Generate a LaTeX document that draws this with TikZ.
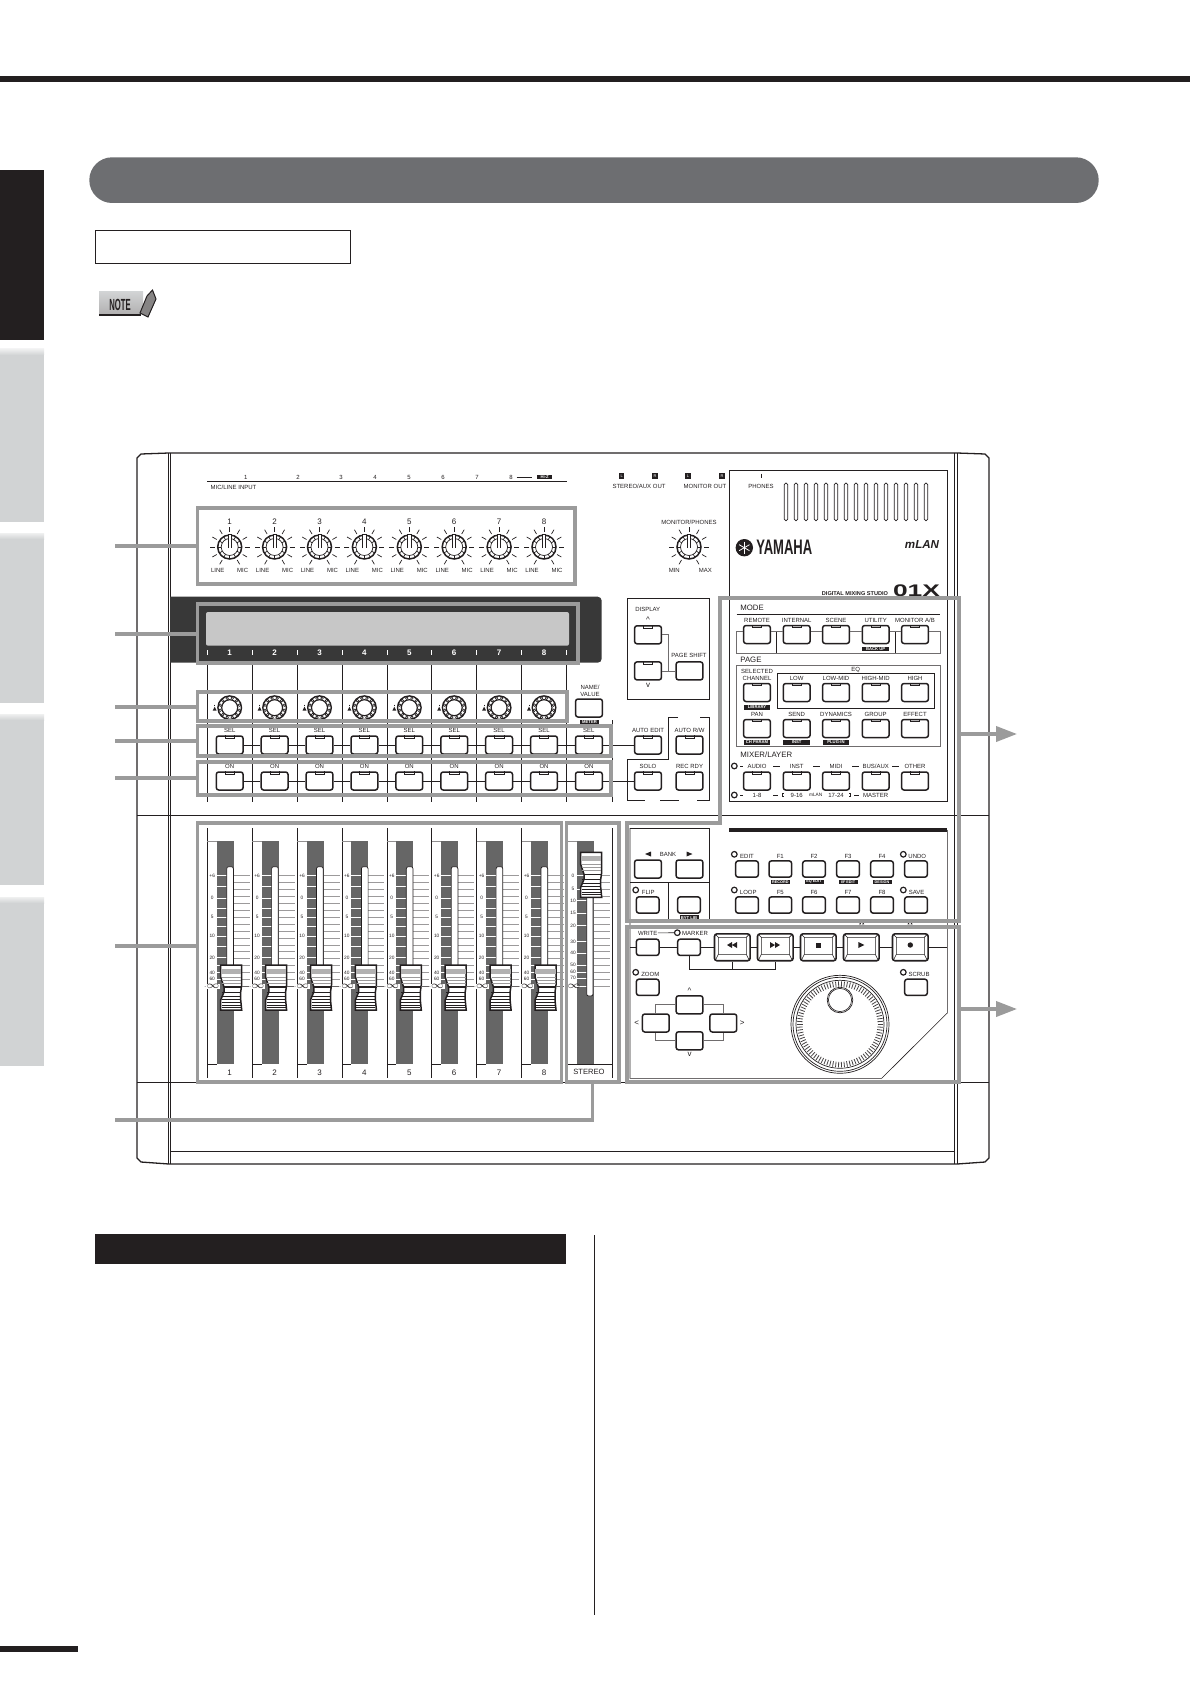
\documentclass[tikz,border=0pt]{standalone}
\usepackage{fontspec}
\setmainfont{Liberation Sans}
\usetikzlibrary{arrows.meta}
\definecolor{ink}{HTML}{231F20}
\definecolor{pillgray}{HTML}{6D6E71}
\definecolor{tabgray}{HTML}{D1D3D4}
\definecolor{framegray}{HTML}{9B9B9B}
\definecolor{bandgray}{HTML}{666666}
\tikzset{
  lbl/.style={inner sep=0, text=ink, font=\fontsize{3}{3.5}\selectfont},
  lblbig/.style={inner sep=0, text=ink, font=\fontsize{4}{4.5}\selectfont},
  lblhead/.style={inner sep=0, text=ink, anchor=west, font=\fontsize{3.9}{4.5}\selectfont},
  lblfine/.style={inner sep=0, text=ink, font=\fontsize{2.4}{3}\selectfont},
  blacktag/.style={fill=ink, text=white, inner sep=0, minimum width=13.3pt, minimum height=2.4pt, font=\bfseries\fontsize{2.1}{2.4}\selectfont},
  tagsmall/.style={blacktag, minimum width=9.5pt},
  keycap/.style={draw=ink, fill=white, line width=.75pt, rounded corners=1.2pt, inner sep=0, minimum width=13.4pt, minimum height=9pt},
  keysmall/.style={keycap, minimum width=11.3pt, minimum height=8.1pt},
  keybig/.style={keycap, line width=.8pt, minimum width=17.8pt, minimum height=13.4pt},
  led/.style={circle, draw=ink, fill=white, line width=.6pt, inner sep=0, minimum size=2.8pt},
  panelline/.style={draw=ink, line width=.3pt},
  softline/.style={draw=ink!65, line width=.35pt},
  heavyline/.style={draw=ink, line width=.65pt},
  grayframe/.style={draw=framegray, line width=1.6pt, inner sep=0},
  leader/.style={draw=framegray, line width=1.6pt},
  leaderarrow/.style={leader, -{Triangle[length=10.5pt,width=7.6pt]}},
}
\begin{document}
\begin{tikzpicture}[x=0.5pt,y=-0.5pt]
\useasboundingbox (0,0) rectangle (1190,1684);

\def\frameat#1#2#3#4#5{
  \node[grayframe, minimum width={(#4-#2)*0.5pt}, minimum height={(#5-#3)*0.5pt}] (#1) at ({(#2+#4)/2},{(#3+#5)/2}) {};
}
\def\potknob#1#2{
  \begin{scope}[shift={(#1,#2)}]
    \foreach \a in {-240,-210,...,60}
      \draw[line width=.35pt, ink] (\a:15) -- (\a:20);
    \draw[line width=.75pt, ink, fill=white] (0,0) circle (12);
    \foreach \a in {0,30,...,330}
      \draw[line width=.35pt, ink] (\a:8.5) -- (\a:11.5);
    \draw[line width=.35pt, ink] (0,0) circle (8.5);
    \draw[line width=.35pt, ink, fill=white] (-1.6,1) -- (-1.6,-12.5) -- (1.6,-12.5) -- (1.6,1);
  \end{scope}
}
\def\encoder#1#2{
  \begin{scope}[shift={(#1,#2)}]
    \draw[line width=.7pt, ink, fill=white] (0,0) circle (11.8);
    \draw[line width=.6pt, ink] (0,0) circle (8);
    \foreach \a in {15,45,...,345}
      \draw[line width=.3pt, ink] (\a:9.9) circle (1.3);
    \fill[ink] (-17,3) -- (-15,-1) -- (-13,3) -- cycle;
    \draw[line width=.3pt, ink] (-15,-3) -- (-15,-1.5);
  \end{scope}
}
\def\slidecap#1#2{
  \begin{scope}[shift={(#1,#2)}]
    \draw[line width=.75pt, ink, fill=white] (-9,965) -- (-9,977) -- (-5.7,987) -- (-5.7,992) -- (-9,1000) -- (-9,1010)
      -- (12,1010) -- (11,1000) -- (11,992) -- (12,985) -- (12,965) -- cycle;
    \fill[ink!35] (-8.6,969) rectangle (11.6,974);
    \foreach \y in {977,980,983}
      \draw[line width=.3pt, ink!45] (-7.5,\y) -- (11.7,\y);
    \draw[line width=.6pt, ink] (-5.7,987) -- (11.8,987);
    \foreach \y in {992,996,999,1002,1005,1007.5}
      \draw[line width=.35pt, ink] (-8,\y) -- (11,\y);
  \end{scope}
}
\def\keyled#1#2#3#4{
  \node[#4] (#1) at (#2,#3) {};
  \draw[line width=.3pt, ink, shift={(#1.north)}] (-4.7,0) -- (-4.7,3) -- (4.7,3) -- (4.7,0);
}
\def\bigkey#1#2{
  \node[keybig] (#1) at (#2,947.3) {};
  \draw[line width=.3pt, ink, shift={(#2,947.3)}] (-14,-10) -- (14,-10) -- (14,7) -- (-14,7) -- cycle
    (-14,7) -- (-17,13) (14,7) -- (17,13) (-14,-10) -- (-17,-13) (14,-10) -- (17,-13);
}

% page furniture
\fill[ink] (0,76) rectangle (1190,81.7);
\fill[ink] (0,170) rectangle (44,340);
\foreach \a/\b in {349/522,533/703,714/885,897/1066} {
  \shade[top color=tabgray!35, bottom color=tabgray] (0,\a) rectangle (44,\a+6);
  \fill[tabgray] (0,\a+6) rectangle (44,\b);
}
\fill[pillgray, rounded corners=11.4pt] (89.3,157.3) rectangle (1098.7,203);
\draw[line width=.5pt, ink] (95.3,230.3) rectangle (350.7,263.3);
\shade[top color=tabgray, bottom color=ink!35] (99,292) rectangle (143,314);
\draw[line width=.7pt, ink] (99,315) -- (141,315);
\node[inner sep=0, text=ink] (noteword) at (120,305) {\bfseries\scalebox{.55}[1.15]{\fontsize{7}{8}\selectfont NOTE}};
\draw[line width=.5pt, ink, fill=ink!55] (147,296) -- (152.5,290) -- (156,299) -- (148,317) -- (140,313) -- cycle;
\fill[ink] (0,1646) rectangle (78.4,1652);
\fill[ink] (94.5,1234) rectangle (566,1264);
\draw[line width=.45pt, ink] (594,1235) -- (594,1615);

% chassis
\draw[heavyline] (169,453) -- (141,454) -- (137,458) -- (137,1158) -- (141,1162) -- (169,1164) -- (957,1164) -- (985,1162) -- (989,1158) -- (989,458) -- (985,454) -- (957,453) -- cycle;
\foreach \x in {168.5,170.7,954,957}
  \draw[line width=.35pt, ink] (\x,453) -- (\x,1164);
\draw[line width=.4pt, ink] (137,815) -- (989,815);
\draw[line width=.4pt, ink] (137,1082) -- (989,1082);
\draw[line width=.4pt, ink] (170,1151) -- (954,1151);

% input strip
\draw[line width=.4pt, ink] (207.3,481) -- (567,481);
\draw[line width=.4pt, ink] (516.7,477) -- (532.3,477);
\foreach \x/\n [count=\i] in {245.7/1,298/2,341/3,375/4,409/5,443/6,477/7,511/8}
  \node[lbl] (jack\i) at (\x,477) {\n};
\node[blacktag, minimum width=7.7pt] (hiz) at (544.7,477) {Hi-Z};
\node[lbl] (micline) at (233.5,487) {MIC/LINE INPUT};
\foreach \i in {1,...,8} {
  \pgfmathsetmacro{\cx}{229.7+44.9*(\i-1)}
  \node[lblbig] (trimnum\i) at (\cx,522) {\i};
  \potknob{\cx}{547}
  \node[lbl] (trimline\i) at (\cx-12,570.7) {LINE};
  \node[lbl] (trimmic\i) at (\cx+13,570.7) {MIC};
}

% display
\fill[black!78] (170,596.7) [rounded corners=2pt] -- (601.7,596.7) -- (601.7,662.7) [sharp corners] -- (170,662.7) -- cycle;
\fill[black!22, rounded corners=1pt] (206,612) rectangle (569,645.7);
\foreach \i in {0,...,8} {
  \pgfmathsetmacro{\cx}{207.3+44.9*\i}
  \draw[line width=.4pt, white] (\cx,650) -- (\cx,655);
  \draw[line width=.35pt, ink] (\cx,663) -- (\cx,802);
}
\draw[line width=.35pt, ink] (612,720) -- (612,802);
\foreach \i in {1,...,8} {
  \pgfmathsetmacro{\cx}{229.7+44.9*(\i-1)}
  \node[lblbig, text=white, font=\bfseries\fontsize{4}{4.5}\selectfont] (lcdnum\i) at (\cx,652.7) {\i};
  \encoder{\cx}{707.7}
}

% select and on keys
\foreach \i in {1,...,9} {
  \pgfmathsetmacro{\cx}{229.7+44.9*(\i-1)}
  \keyled{sel\i}{\cx}{745}{keycap}
  \node[lbl] (sellab\i) at (\cx,730) {SEL};
  \keyled{on\i}{\cx}{781}{keycap}
  \node[lbl] (onlab\i) at (\cx,766) {ON};
}
\foreach \i [remember=\i as \j (initially 1)] in {2,...,9} {
  \draw[panelline] (sel\j) -- (sel\i);
  \draw[panelline] (on\j) -- (on\i);
}
\node[keycap] (namekey) at (589,708) {};
\node[lbl] (namelab) at (590,687.5) {NAME/};
\node[lbl] (valuelab) at (590,694.5) {VALUE};
\node[tagsmall] (meter) at (589.5,722) {METER};

% display and automation block
\draw[panelline] (627.3,598.3) rectangle (709.3,699.3);
\node[lbl] (displab) at (647.7,609.3) {DISPLAY};
\keyled{dispup}{648}{634.8}{keycap}
\keyled{dispdown}{648}{670.9}{keycap}
\node[keycap] (pageshift) at (689.5,670.9) {};
\node[lbl] (pagelab) at (689,655.7) {PAGE SHIFT};
\node[lblbig] (dispuplab) at (648,620) {\textasciicircum};
\node[lblbig] (dispdnlab) at (648,685) {v};
\coordinate (dispjoin) at (668.3,670.9);
\draw[softline] (dispup) -| (dispjoin);
\draw[softline] (dispdown) -- (pageshift);
\keyled{autoedit}{648}{745}{keycap}
\keyled{autorw}{689.5}{745}{keycap}
\keyled{solo}{648}{781}{keycap}
\keyled{recrdy}{689.5}{781}{keycap}
\node[lbl] (autoeditlab) at (648,730) {AUTO EDIT};
\node[lbl] (autorwlab) at (689.5,730) {AUTO R/W};
\node[lbl] (sololab) at (648,766) {SOLO};
\node[lbl] (recrdylab) at (689.5,766) {REC RDY};
\draw[panelline] (sel9) -- (autoedit);
\draw[panelline] (on9) -- (solo);
\draw[panelline] (678,717) -- (668,717) -- (668,759) -- (627.3,759) -- (627.3,800.7) -- (645,800.7);
\draw[panelline] (660,800.7) -- (679,800.7);
\draw[panelline] (697,800.7) -- (709.3,800.7) -- (709.3,717) -- (700,717);

% output labels and monitor
\foreach \x/\n [count=\i] in {621.7/L,655/R,688/L,722/R}
  \node[fill=ink, text=white, inner sep=0, minimum size=2.6pt, font=\fontsize{2}{2}\selectfont] (outlab\i) at (\x,476) {\n};
\node[lbl] (stereoout) at (639,486.7) {STEREO/AUX OUT};
\node[lbl] (monout) at (705,486.7) {MONITOR OUT};
\node[lbl] (monphones) at (689,522) {MONITOR/PHONES};
\potknob{689}{547}
\node[lbl] (minlab) at (674.3,570.7) {MIN};
\node[lbl] (maxlab) at (705.3,570.7) {MAX};

% logo panel
\draw[panelline] (729,470.7) rectangle (947.3,801.7);
\draw[line width=.5pt, ink] (761,473.5) -- (761,478);
\node[lbl] (phones) at (761,486.7) {PHONES};
\foreach \i in {0,...,14}
  \draw[line width=.35pt, ink, rounded corners=.8pt] (784.3+10*\i,483) rectangle (787.7+10*\i,520.7);
\fill[ink] (744.3,547.7) circle (8.7);
\foreach \a in {30,90,150}
  \draw[line width=.4pt, white] (\a:-6) ++(744.3,547.7) -- ++(\a:12);
\node[inner sep=0, text=ink] (yamaha) at (784.3,547.7) {\bfseries\scalebox{.62}[1]{\fontsize{10.5}{11}\selectfont YAMAHA}};
\node[inner sep=0, text=ink, font=\bfseries\itshape\fontsize{5.8}{6}\selectfont] (mlan) at (922,545) {mLAN};
\node[lbl, font=\bfseries\fontsize{2.8}{3}\selectfont] (digital) at (855,593.7) {DIGITAL MIXING STUDIO};
\node[inner sep=0, text=ink] (model) at (916.5,591) {\bfseries\scalebox{1.57}[1]{\fontsize{8.4}{9}\selectfont 01X}};

% mode
\node[lblhead] (modelab) at (740,608) {MODE};
\draw[line width=.5pt, ink] (736.7,614.3) -- (940,614.3);
\coordinate (modeline) at (0,631.7);
\foreach \n/\x/\t in {remote/757/REMOTE,internal/796.7/INTERNAL,scene/836/SCENE,utility/875.7/UTILITY,monitorab/915/{MONITOR A/B}} {
  \keyled{\n}{\x}{634.5}{keycap}
  \node[lbl] (\n lab) at (\x,620) {\t};
}
\draw[softline] (remote.west |- modeline) -- (736.7,631.7) -- (736.7,653.3) -- (940,653.3) -- (940,631.7) -- (monitorab.east |- modeline);
\draw[panelline] (776,631.7) -- (776,653.3);
\draw[panelline] (895.3,631.7) -- (895.3,653.3);
\draw[softline] (remote.east |- modeline) -- (internal.west |- modeline);
\draw[softline] (internal.east |- modeline) -- (scene.west |- modeline);
\draw[softline] (scene.east |- modeline) -- (utility.west |- modeline);
\draw[softline] (utility.east |- modeline) -- (monitorab.west |- modeline);
\node[blacktag] (backup) at (875.7,649) {BACK UP};

% page
\node[lblhead] (pagehead) at (740,660) {PAGE};
\draw[softline] (736.7,665.7) rectangle (940,746.7);
\draw[line width=.45pt, ink] (777,673) rectangle (934,708.7);
\node[lbl] (eqlab) at (855.7,669.7) {EQ};
\node[lbl] (selectedlab) at (757,671.3) {SELECTED};
\node[lbl] (channellab) at (757,678.3) {CHANNEL};
\keyled{channel}{757}{692.5}{keycap}
\foreach \n/\x/\t in {low/796.7/LOW,lowmid/836/LOW-MID,highmid/875.7/HIGH-MID,high/915/HIGH} {
  \keyled{\n}{\x}{692.5}{keycap}
  \node[lbl] (\n lab) at (\x,678.3) {\t};
}
\foreach \n/\x/\t in {pan/757/PAN,send/796.7/SEND,dynamics/836/DYNAMICS,group/875.7/GROUP,effect/915/EFFECT} {
  \keyled{\n}{\x}{728.5}{keycap}
  \node[lbl] (\n lab) at (\x,714) {\t};
}
\node[blacktag] (library) at (757,707.4) {LIBRARY};
\node[blacktag] (chparam) at (757,742.4) {CH PARAM};
\node[blacktag] (instuse) at (796.7,742.4) {INST};
\node[blacktag] (plugin) at (836,742.4) {PLUG-IN};

% mixer and layer
\node[lblhead] (mixerlab) at (740,755) {MIXER/LAYER};
\foreach \n/\x/\t in {audio/757/AUDIO,inst/796.7/INST,midi/836/MIDI,busaux/875.7/{BUS/AUX},other/915/OTHER} {
  \keyled{\n}{\x}{781}{keycap}
  \node[lbl] (\n lab) at (\x,766) {\t};
}
\foreach \x/\t [count=\i] in {757/1-8,796.7/9-16,836/17-24,875.7/MASTER}
  \node[lbl] (lowlab\i) at (\x,795.3) {\t};
\node[lblfine] (mlanlab) at (815.7,795.3) {mLAN};
\node[led] (ledtop) at (734.3,766) {};
\node[led] (ledlow) at (734.3,795) {};
\foreach \a/\b in {740/742.7,773.3/780,813.3/820,852.3/859.3,892.3/899}
  \draw[panelline] (\a,766) -- (\b,766);
\foreach \a/\b in {740/742.7,773.3/777.7,854.3/859.3}
  \draw[panelline] (\a,795) -- (\b,795);
\draw[panelline] (784,793.5) -- (782.7,793.5) -- (782.7,796.5) -- (784,796.5);
\draw[panelline] (849,793.5) -- (850.3,793.5) -- (850.3,796.5) -- (849,796.5);

% faders
\foreach \i in {1,...,8} {
  \pgfmathsetmacro{\cx}{229.7+44.9*(\i-1)}
  \begin{scope}[shift={(\cx,0)}]
    \draw[line width=.35pt, ink] (-22.4,828) -- (-22.4,1078);
    \draw[line width=.25pt, ink!50] (-22.4,841) -- (-13,841);
    \draw[line width=.3pt, ink] (-22.4,1064.3) -- (-13,1064.3);
    \fill[bandgray] (-13,841) rectangle (4,1064.3);
    \foreach \y in {875.3,882,889,896.3,903.3,910.3,917.7,924.7,931.7,938.3,945,951.7,958.3,965,972.7,979.3}
      \draw[line width=.25pt, ink!45] (4,\y) -- (20,\y);
    \foreach \y in {875.3,886.3,898.3,908.7,917.3,926,936,946.3,957.7,965,972.7,979.3}
      \draw[line width=.3pt, white] (-13,\y) -- (-3,\y);
    \draw[line width=.35pt, ink, fill=white, rounded corners=1pt] (-3,975) -- (-3,866.7) -- (3.7,866.7) -- (3.7,975);
    \slidecap{0}{0}
    \draw[line width=.35pt, ink!70] (12,986.7) -- (20,986.7);
  \end{scope}
  \foreach \t/\y [count=\k] in {+6/876,0/898.3,5/917.3,10/936,20/957.7,40/972.7,60/979.3,{-$\infty$}/986.7}
    \node[lblfine, fill=white, inner sep=.1pt] (scale\i-\k) at (\cx-17.5,\y) {\t};
  \node[lblbig] (fadernum\i) at (\cx,1072.3) {\i};
}

% stereo fader
\draw[line width=.25pt, ink!50] (568,841) -- (576.7,841);
\draw[line width=.3pt, ink] (568,1064.3) -- (612.3,1064.3);
\draw[line width=.4pt, ink] (612.3,828) -- (612.3,1078);
\fill[bandgray] (576.7,841) rectangle (594,1064.3);
\foreach \y in {875.3,882,889,896.3,903.3,910.3,917.7,924.7,931.7,938.3,945,951.7,958.3,965,972.7,979.3,986.7}
  \draw[line width=.25pt, ink!45] (594,\y) -- (610,\y);
\foreach \y in {875.3,889,900.7,913.3,925.7,941.7,953.3,965,972.3,978.3,986.7}
  \draw[line width=.3pt, white] (576.7,\y) -- (586.7,\y);
\draw[line width=.35pt, ink, fill=white, rounded corners=1pt] (586.7,860) -- (586.7,996) -- (593,996) -- (593,860);
\foreach \t/\y [count=\k] in {0/876,5/889,10/900.7,15/913.3,20/925.7,30/941.7,40/953.3,50/965,60/972.3,70/978.3,{-$\infty$}/986.7}
  \node[lblfine] (stscale\k) at (573,\y) {\t};
\slidecap{589.7}{-112.7}
\node[lbl, font=\fontsize{3.8}{4.2}\selectfont] (stereolab) at (589,1072.3) {STEREO};

% function block
\draw[panelline] (630,828) -- (709.3,828) -- (709.3,921);
\draw[panelline] (630,882.3) -- (709.3,882.3);
\draw[panelline] (668.3,882.3) -- (668.3,921);
\draw[panelline] (630,828) -- (630,1078.3) -- (881.7,1078.3) -- (947.3,1013) -- (947.3,830);
\fill[ink] (729,828.2) rectangle (947.3,831.9);
\node[lbl] (banklab) at (668,854) {BANK};
\fill[ink] (645,854) -- (651,851.5) -- (651,856.5) -- cycle;
\fill[ink] (692.5,854) -- (686.5,851.5) -- (686.5,856.5) -- cycle;
\node[keycap] (bankleft) at (648,869) {};
\node[keycap] (bankright) at (689.5,869) {};
\node[led] (flipled) at (635.7,890) {};
\node[lbl] (fliplab) at (648.3,892.3) {FLIP};
\node[keysmall] (flip) at (647.7,905) {};
\node[keysmall] (bytelib) at (689,905) {};
\node[tagsmall] (bytelabel) at (689,917.7) {BYT LIB};
\foreach \n/\x in {edit/747,fone/780.3,ftwo/814,fthree/848,ffour/882,undo/916} {
  \node[keysmall] (\n) at (\x,869) {};
  \node[keysmall] (\n low) at (\x,905) {};
}
\foreach \n/\x/\y/\t in {fonetag/780.3/856.3/F1,ftwotag/814/856.3/F2,fthreetag/848/856.3/F3,ffourtag/882/856.3/F4,ffive/780.3/892.3/F5,fsix/814/892.3/F6,fseven/848/892.3/F7,feight/882/892.3/F8,editlab/747/856.3/EDIT,looplab/748.3/892.3/LOOP,undolab/917.3/856.3/UNDO,savelab/916.7/892.3/SAVE}
  \node[lbl] (\n) at (\x,\y) {\t};
\foreach \n/\x/\y in {editled/734.3/854.3,loopled/734.3/890,undoled/903.3/854.3,saveled/903.3/890}
  \node[led] (\n) at (\x,\y) {};
\foreach \n/\x/\t in {recordtag/780.3/RECORD,eqedittag/814/EQ EDIT,ifedittag/848/{I/F EDIT},designtag/882/DESIGN}
  \node[tagsmall, font=\bfseries\fontsize{1.9}{2.2}\selectfont] (\n) at (\x,882) {\t};
\foreach \x in {861.7,910}
  \fill[ink] (\x-2.6,924.4) -- (\x-1.5,922.4) -- (\x-.4,924.4) -- cycle (\x+.4,924.4) -- (\x+1.5,922.4) -- (\x+2.6,924.4) -- cycle;

% transport
\coordinate (transleft) at (630,947.3);
\coordinate (transright) at (947.3,947.3);
\coordinate (bracketline) at (0,969.3);
\node[keysmall] (writekey) at (647.7,947.3) {};
\node[keysmall] (markerkey) at (689,947.3) {};
\node[lbl] (writelab) at (647.7,933) {WRITE};
\node[led] (markerled) at (677.3,932.7) {};
\node[lbl] (markerlab) at (695,933) {MARKER};
\draw[panelline] (writelab) -- (markerled);
\bigkey{rewind}{732.3}
\bigkey{forward}{775.3}
\bigkey{stopkey}{818.3}
\bigkey{playkey}{861.3}
\bigkey{reckey}{910.3}
\draw[panelline] (transleft) -- (writekey);
\draw[panelline] (writekey) -- (markerkey);
\draw[panelline] (markerkey) -- (rewind);
\draw[panelline] (rewind) -- (forward);
\draw[panelline] (forward) -- (stopkey);
\draw[panelline] (stopkey) -- (playkey);
\draw[panelline] (playkey) -- (reckey);
\draw[panelline] (reckey) -- (transright);
\draw[panelline] (markerkey.south) -- (markerkey.south |- bracketline) -- (forward.south |- bracketline) -- (forward.south);
\draw[panelline] (rewind.south) -- (rewind.south |- bracketline);
\fill[ink] (727,945) -- (732,942) -- (732,948) -- cycle (732,945) -- (737,942) -- (737,948) -- cycle;
\fill[ink] (770,942) -- (775,945) -- (770,948) -- cycle (775,942) -- (780,945) -- (775,948) -- cycle;
\fill[ink] (815.8,942.5) rectangle (820.8,947.5);
\fill[ink] (858.3,942) -- (864.3,945) -- (858.3,948) -- cycle;
\fill[ink] (910.3,945) circle (2.7);

% zoom, scrub, cursor keys
\node[led] (zoomled) at (635.7,972.3) {};
\node[lbl] (zoomlab) at (650.3,974.3) {ZOOM};
\node[keysmall] (zoomkey) at (647.7,987.3) {};
\node[led] (scrubled) at (903.3,972.3) {};
\node[lbl] (scrublab) at (919,974.3) {SCRUB};
\node[keysmall] (scrubkey) at (916,987.3) {};
\node[keycap] (curup) at (689.5,1004.8) {};
\node[keycap] (curdown) at (689.5,1040.8) {};
\node[keycap] (curleft) at (655.8,1023) {};
\node[keycap] (curright) at (723.3,1023) {};
\draw[softline] (curleft) |- (curup) -| (curright) |- (curdown) -| (curleft);
\node[lblbig] (curuplab) at (689.5,990.5) {\textasciicircum};
\node[lblbig] (curdnlab) at (689.5,1054) {v};
\node[lblbig] (curltlab) at (636.7,1022.7) {<};
\node[lblbig] (curgtlab) at (742.3,1022.7) {>};

% jog wheel
\begin{scope}[shift={(840,1024.3)}]
  \draw[line width=.35pt, ink] (0,0) circle (49);
  \draw[line width=.35pt, ink] (0,0) circle (47);
  \draw[line width=.35pt, ink] (0,0) circle (44);
  \foreach \a in {0,4,...,356}
    \draw[line width=.4pt, ink!85] (\a:37.5) -- (\a:43);
  \draw[line width=.35pt, ink, fill=white] (0,-24.3) circle (12.8);
  \draw[line width=.3pt, ink] (0,-24.3) circle (11.6);
\end{scope}

% frames and their leaders
\frameat{trimframe}{197.7}{508}{575}{584}
\frameat{displayframe}{197.7}{604}{578}{663}
\frameat{encoderframe}{197.7}{692}{567}{721}
\frameat{selframe}{197.7}{726}{611}{756}
\frameat{onframe}{197.7}{762}{611}{795}
\frameat{faderframe}{197.7}{823}{561.7}{1082}
\frameat{stereoframe}{566.7}{823}{619}{1082}
\frameat{transportframe}{627}{927}{959}{1082}
\draw[leader] (720,823) -- (720,598) -- (959,598) -- (959,921) -- (627,921) -- (627,823) -- cycle;
\coordinate (tagtrim) at (115,546);
\coordinate (tagdisplay) at (115,634);
\coordinate (tagencoder) at (115,707);
\coordinate (tagsel) at (115,741);
\coordinate (tagon) at (115,778);
\coordinate (tagfader) at (115,946);
\coordinate (tagstereo) at (115,1120);
\coordinate (modeedge) at (959,734);
\coordinate (modetip) at (1017,734);
\coordinate (transporttip) at (1017,1009);
\draw[leader] (tagtrim) -- (tagtrim -| trimframe.west);
\draw[leader] (tagdisplay) -- (tagdisplay -| displayframe.west);
\draw[leader] (tagencoder) -- (tagencoder -| encoderframe.west);
\draw[leader] (tagsel) -- (tagsel -| selframe.west);
\draw[leader] (tagon) -- (tagon -| onframe.west);
\draw[leader] (tagfader) -- (tagfader -| faderframe.west);
\draw[leader] (stereoframe.south) |- (tagstereo);
\draw[leaderarrow] (modeedge) -- (modetip);
\draw[leaderarrow] (transporttip -| transportframe.east) -- (transporttip);

\end{tikzpicture}
\end{document}
